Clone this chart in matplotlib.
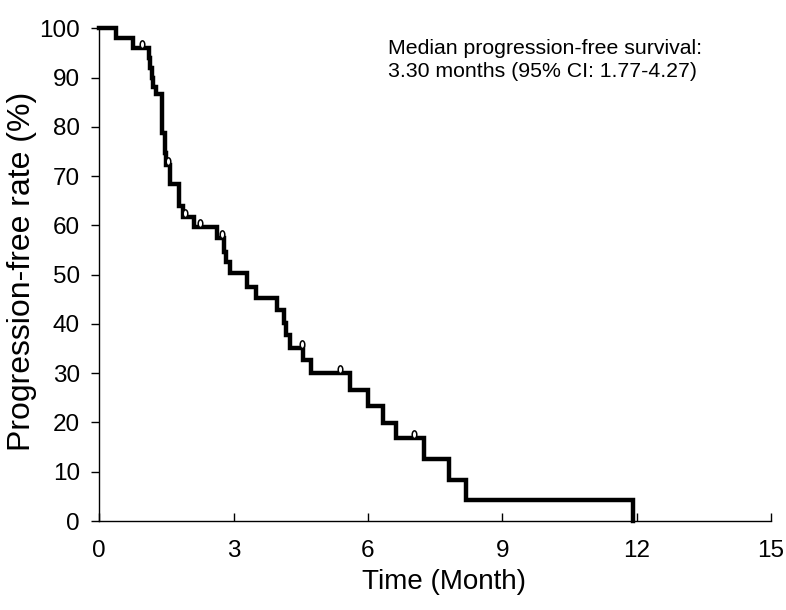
import numpy as np
import matplotlib
matplotlib.use("Agg")
import matplotlib.pyplot as plt
from matplotlib.path import Path

plt.rcParams['font.family'] = ['Liberation Sans', 'DejaVu Sans']

# step curve: time of each drop (months) and the level after it (%)
step_time = [0, 0.38, 0.75, 1.10, 1.13, 1.17, 1.20, 1.27, 1.41, 1.47, 1.50, 1.58,
             1.78, 1.86, 2.12, 2.62, 2.78, 2.84, 2.91, 3.31, 3.50, 3.98, 4.12,
             4.17, 4.25, 4.55, 4.73, 5.59, 6.00, 6.33, 6.63, 7.25, 7.82, 8.20, 11.93]
step_rate = [100, 98, 96, 94, 92, 90, 88, 86.6, 78.7, 74.6, 72.2, 68.5,
             64.0, 61.7, 59.6, 57.4, 54.6, 52.5, 50.3, 47.5, 45.2, 42.8, 40.2,
             37.7, 35.1, 32.6, 30.0, 26.6, 23.4, 19.9, 16.8, 12.6, 8.3, 4.2, 0]
censor_time = [0.95, 1.54, 1.92, 2.24, 2.75, 4.52, 5.38, 7.02]

xticks = [0, 3, 6, 9, 12, 15]
yticks = [0, 10, 20, 30, 40, 50, 60, 70, 80, 90, 100]


def level_at(t):
    i = np.searchsorted(step_time, t, side='right') - 1
    return step_rate[i]


censor_rate = [level_at(t) for t in censor_time]

# small upright loop sitting on the line for censored cases
th = np.linspace(0, 2 * np.pi, 40)
loop = Path(np.column_stack([0.3 * np.sin(th), 0.5 - 0.5 * np.cos(th)]))

fig = plt.figure(figsize=(7.86, 6.10), dpi=100)
ax = fig.add_axes([0.1263, 0.1459, 0.8544, 0.8077])

ax.step(step_time, step_rate, where='post', color='black', lw=3.2,
        solid_joinstyle='miter', clip_on=False, zorder=3)
ax.plot(censor_time, censor_rate, linestyle='none', marker=loop, markersize=11,
        markerfacecolor='white', markeredgecolor='black', markeredgewidth=1.1,
        clip_on=False, zorder=4)

ax.set_xlim(0, 15)
ax.set_ylim(0, 100)
ax.set_xticks(xticks)
ax.set_yticks(yticks)
ax.tick_params(axis='x', direction='in', length=6, width=1, labelsize=17.5, pad=14)
ax.tick_params(axis='y', direction='out', length=6, width=1, labelsize=17.5, pad=8)
for s in ['top', 'right']:
    ax.spines[s].set_visible(False)
for s in ['left', 'bottom']:
    ax.spines[s].set_linewidth(1)

ax.set_xlabel('Time (Month)', fontsize=20)
ax.set_ylabel('Progression-free rate (%)', fontsize=23)
ax.xaxis.set_label_coords(0.513, -0.098)
ax.yaxis.set_label_coords(-0.093, 0.506)

ax.text(0.43, 0.978, 'Median progression-free survival:\n3.30 months (95% CI: 1.77-4.27)',
        transform=ax.transAxes, ha='left', va='top', fontsize=15.3, linespacing=1.25)

fig.savefig('out.png', dpi=100)
